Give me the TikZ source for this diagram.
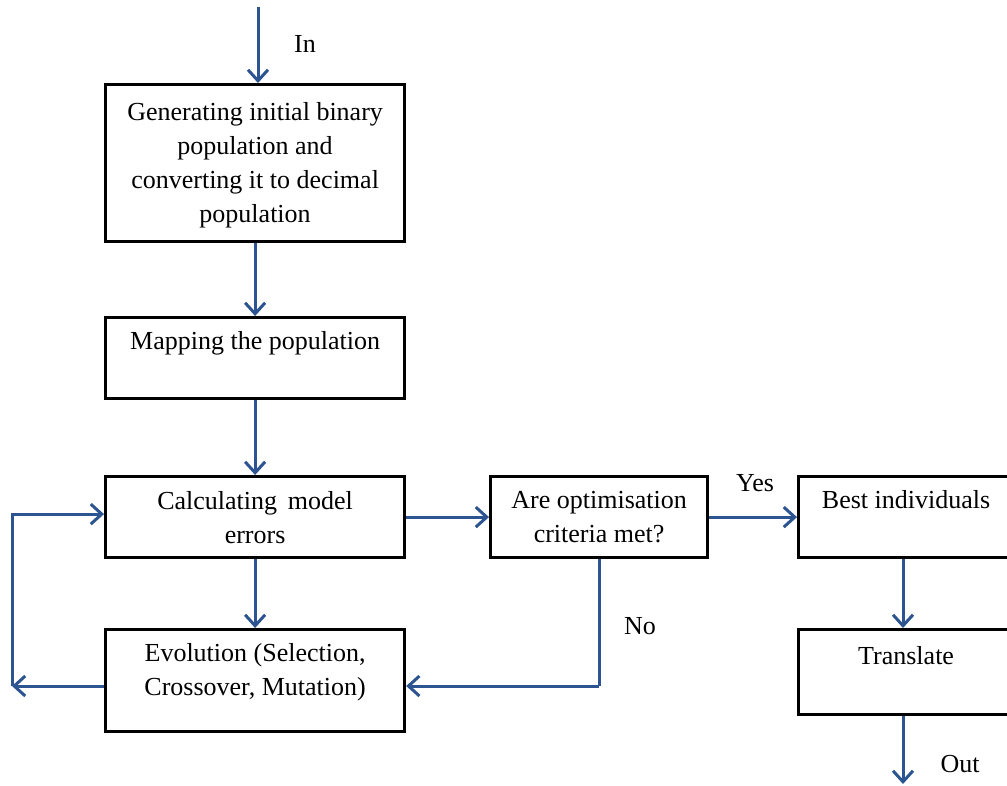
\documentclass[tikz,border=0pt]{standalone}
\usepackage{fontspec}
\setmainfont{Liberation Serif}
\usetikzlibrary{arrows.meta,calc}
\definecolor{flowblue}{RGB}{44,84,144}
\begin{document}
\begin{tikzpicture}[x=1pt,y=-1pt,
  stagebox/.style={draw=black,line width=3.2pt,rectangle,inner sep=0pt,anchor=north west},
  txt/.style={font=\fontsize{26}{34}\selectfont,align=center,inner sep=0pt},
  flow/.style={draw=flowblue,line width=3pt,
    -{Straight Barb[length=11pt,width=20pt,line width=3pt]}},
  wire/.style={draw=flowblue,line width=3pt}]
\useasboundingbox (0,0) rectangle (1007,785);

% process boxes
\node[stagebox,minimum width=299pt,minimum height=157pt] (b1) at (104,83) {};
\node[stagebox,minimum width=299pt,minimum height=81pt]  (b2) at (104,316) {};
\node[stagebox,minimum width=299pt,minimum height=81pt]  (b3) at (104,475) {};
\node[stagebox,minimum width=299pt,minimum height=102pt] (b4) at (104,628) {};
\node[stagebox,minimum width=217pt,minimum height=81pt]  (b5) at (489,475) {};
\node[stagebox,minimum width=215pt,minimum height=81pt]  (b6) at (797,475) {};
\node[stagebox,minimum width=215pt,minimum height=85pt]  (b7) at (797,628) {};

% box texts
\node[txt] (t1) at ([yshift=-2pt]b1.center) {Generating initial binary\\population and\\converting it to decimal\\population};
\node[txt] (t2) at ([yshift=-27pt]b2.north) {Mapping the population};
\node[txt] (t3) at (b3.center) {Calculating\, model\\errors};
\node[txt] (t4) at ([yshift=-44pt]b4.north) {Evolution (Selection,\\Crossover, Mutation)};
\node[txt] (t5) at (b5.center) {Are optimisation\\criteria met?};
\node[txt] (t6) at ([yshift=-25pt]b6.north) {Best individuals};
\node[txt] (t7) at ([yshift=-28pt]b7.north) {Translate};

% free ends and bends
\coordinate (inTop) at (258,7);
\coordinate (outEnd) at (903,784);
\coordinate (loopL) at (12,686);
\coordinate (noBend) at ($(b5.south |- loopL)$);

% connectors
\draw[flow] (inTop) -- (inTop |- b1.north);
\draw[flow] (b1.south) -- (b2.north);
\draw[flow] (b2.south) -- (b3.north);
\draw[flow] (b3.south) -- (b4.north);
\draw[flow] (b3.east) -- (b5.west);
\draw[flow] (b5.east) -- (b6.west);
\draw[flow] (b6.south -| outEnd) -- (b7.north -| outEnd);
\draw[flow] (b7.south -| outEnd) -- (outEnd);
\draw[wire] (b5.south) -- (noBend);
\draw[flow] (noBend) -- (noBend -| b4.east);
\draw[flow] (loopL -| b4.west) -- (loopL);
\draw[flow] (loopL) |- ($(b3.west)+(0,-3)$);

% branch labels
\node[txt] (lin)  at (305,44)  {In};
\node[txt] (lout) at (960,764) {Out};
\node[txt] (lyes) at (755,483) {Yes};
\node[txt] (lno)  at (640,626) {No};
\end{tikzpicture}
\end{document}
